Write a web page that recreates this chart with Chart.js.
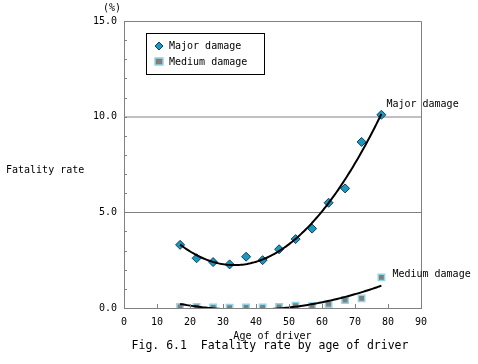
<!DOCTYPE html>
<html><head><meta charset="utf-8">
<script src="https://cdn.jsdelivr.net/npm/chart.js@4/dist/chart.umd.min.js"></script>
<style>html,body{margin:0;padding:0;background:#fff}#wrap{width:478px;height:364px}</style>
</head><body><div id="wrap"><canvas id="c" width="478" height="364"></canvas></div>
<script>
const ages = [17, 22, 27, 32, 37, 42, 47, 52, 57, 62, 67, 72, 78];
const majorDamage = [3.3, 2.6, 2.4, 2.28, 2.68, 2.5, 3.07, 3.6, 4.15, 5.5, 6.25, 8.68, 10.1];
const mediumDamage = [0.05, 0.05, 0.03, 0.02, 0.03, 0.03, 0.05, 0.12, 0.1, 0.2, 0.42, 0.5, 1.6];
const seriesNames = ['Major damage', 'Medium damage'];
const yTickLabels = ['0.0', '5.0', '10.0', '15.0'];
const xTickLabels = ['0','10','20','30','40','50','60','70','80','90'];
const FONT = "'DejaVu Sans Mono', monospace";

// 2nd-order least-squares trendline (as the spreadsheet trendline)
function polyFit2(xs, ys) {
  let S = [0,0,0,0,0], T = [0,0,0];
  for (let i = 0; i < xs.length; i++) {
    let p = 1;
    for (let k = 0; k < 5; k++) { S[k] += p; if (k < 3) T[k] += p * ys[i]; p *= xs[i]; }
  }
  const A = [[S[0],S[1],S[2],T[0]],[S[1],S[2],S[3],T[1]],[S[2],S[3],S[4],T[2]]];
  for (let i = 0; i < 3; i++) {
    for (let j = i + 1; j < 3; j++) {
      const f = A[j][i] / A[i][i];
      for (let k = i; k < 4; k++) A[j][k] -= f * A[i][k];
    }
  }
  const c = [0,0,0];
  for (let i = 2; i >= 0; i--) {
    let s = A[i][3];
    for (let k = i + 1; k < 3; k++) s -= A[i][k] * c[k];
    c[i] = s / A[i][i];
  }
  return c;
}
function trend(xs, ys) {
  const c = polyFit2(xs, ys), pts = [];
  const x0 = xs[0], x1 = xs[xs.length - 1];
  for (let i = 0; i <= 120; i++) {
    const x = x0 + (x1 - x0) * i / 120;
    pts.push({x, y: c[0] + c[1] * x + c[2] * x * x});
  }
  return pts;
}
const toPts = (xs, ys) => xs.map((x, i) => ({x, y: ys[i]}));

const MAJ_BG = '#1b97c2', MAJ_BD = '#0d3f5c';
const MED_BG = '#7f7f7f', MED_BD = '#8fd6e6';

const framePlugin = {
  id: 'frame',
  afterDatasetsDraw(chart) {
    const {ctx, chartArea: a, scales: {x, y}} = chart;
    ctx.save();
    ctx.strokeStyle = '#808080'; ctx.lineWidth = 1;
    ctx.beginPath();
    ctx.moveTo(a.left, a.top + 0.5); ctx.lineTo(a.right + 0.5, a.top + 0.5);
    ctx.lineTo(a.right + 0.5, a.bottom);
    ctx.stroke();
    // inner minor ticks on y
    ctx.beginPath();
    for (let v = 1; v < 15; v++) {
      const py = Math.round(y.getPixelForValue(v)) + 0.5;
      ctx.moveTo(a.left, py); ctx.lineTo(a.left + 3, py);
    }
    for (let v = 10; v < 90; v += 10) {
      const px = Math.round(x.getPixelForValue(v)) + 0.5;
      ctx.moveTo(px, a.bottom); ctx.lineTo(px, a.bottom - 4);
    }
    ctx.stroke();
    ctx.restore();
  },
  afterDraw(chart) {
    const {ctx, chartArea: a, scales: {x, y}} = chart;
    ctx.save();
    ctx.fillStyle = '#000';
    ctx.textBaseline = 'middle';
    ctx.font = '10px ' + FONT;
    ctx.textAlign = 'center';
    ctx.fillText('(%)', 112, 8);
    ctx.textAlign = 'left';
    ctx.fillText('Fatality rate', 6, 170);
    // series end labels
    const n = ages.length - 1;
    ctx.fillText(seriesNames[0], x.getPixelForValue(ages[n]) + 5, y.getPixelForValue(majorDamage[n]) - 10);
    ctx.fillText(seriesNames[1], x.getPixelForValue(ages[n]) + 11, y.getPixelForValue(mediumDamage[n]) - 3);
    // caption
    ctx.font = '11.5px ' + FONT;
    ctx.textAlign = 'center';
    ctx.fillText('Fig. 6.1  Fatality rate by age of driver', 270, 346);
    // legend
    ctx.fillStyle = '#fff';
    ctx.fillRect(147, 34, 117, 40);
    ctx.strokeStyle = '#000'; ctx.lineWidth = 1;
    ctx.strokeRect(146.5, 33.5, 118, 41);
    // diamond
    ctx.fillStyle = MAJ_BG; ctx.strokeStyle = MAJ_BD;
    ctx.beginPath();
    ctx.moveTo(159, 42); ctx.lineTo(163, 46); ctx.lineTo(159, 50); ctx.lineTo(155, 46); ctx.closePath();
    ctx.fill(); ctx.stroke();
    ctx.fillStyle = MED_BG; ctx.strokeStyle = MED_BD; ctx.lineWidth = 1.5;
    ctx.fillRect(155, 58, 8, 7); ctx.strokeRect(155, 58, 8, 7);
    ctx.fillStyle = '#000';
    ctx.textAlign = 'left';
    ctx.font = '10px ' + FONT;
    ctx.fillText(seriesNames[0], 169, 46);
    ctx.fillText(seriesNames[1], 169, 62);
    ctx.restore();
  }
};

new Chart(document.getElementById('c'), {
  type: 'scatter',
  data: {
    datasets: [
      {label: seriesNames[0], data: toPts(ages, majorDamage), pointStyle: 'rectRot', radius: 4.5,
       backgroundColor: MAJ_BG, borderColor: MAJ_BD, borderWidth: 1, order: 2},
      {label: seriesNames[1], data: toPts(ages, mediumDamage), pointStyle: 'rect', radius: 4.5,
       backgroundColor: MED_BG, borderColor: MED_BD, borderWidth: 1.5, order: 2},
      {label: 'trend1', data: trend(ages, majorDamage), showLine: true, pointRadius: 0,
       borderColor: '#000', borderWidth: 2, tension: 0, order: 1},
      {label: 'trend2', data: trend(ages, mediumDamage), showLine: true, pointRadius: 0,
       borderColor: '#000', borderWidth: 2, tension: 0, order: 1}
    ]
  },
  options: {
    responsive: false, animation: false, devicePixelRatio: 1,
    layout: {padding: {left: 0, top: 21, right: 57, bottom: 22}},
    plugins: {legend: {display: false}, tooltip: {enabled: false}, title: {display: false}},
    scales: {
      x: {
        type: 'linear', min: 0, max: 90,
        afterFit: s => { s.height = 34; },
        afterBuildTicks: s => { s.ticks = xTickLabels.map(t => ({value: +t})); },
        ticks: {autoSkip: false, maxRotation: 0, padding: 8, color: '#000', font: {family: FONT, size: 10},
                callback: (v, i) => xTickLabels[i]},
        grid: {display: true, drawOnChartArea: false, drawTicks: false},
        border: {display: true, color: '#808080', width: 1},
        title: {display: true, text: 'Age of driver', color: '#000', font: {family: FONT, size: 10}, padding: {top: 0, bottom: 0}}
      },
      y: {
        type: 'linear', min: 0, max: 15,
        afterFit: s => { s.width = 124; },
        afterBuildTicks: s => { s.ticks = yTickLabels.map(t => ({value: +t})); },
        ticks: {autoSkip: false, padding: 7, color: '#000', font: {family: FONT, size: 10},
                callback: (v, i) => yTickLabels[i]},
        grid: {drawTicks: false,
               color: c => c.tick && c.tick.value === 5 ? '#808080' : (c.tick && c.tick.value === 10 ? '#c0c0c0' : 'rgba(0,0,0,0)'),
               lineWidth: c => c.tick && c.tick.value === 10 ? 2 : 1},
        border: {display: true, color: '#808080', width: 1}
      }
    }
  },
  plugins: [framePlugin]
});
</script></body></html>
